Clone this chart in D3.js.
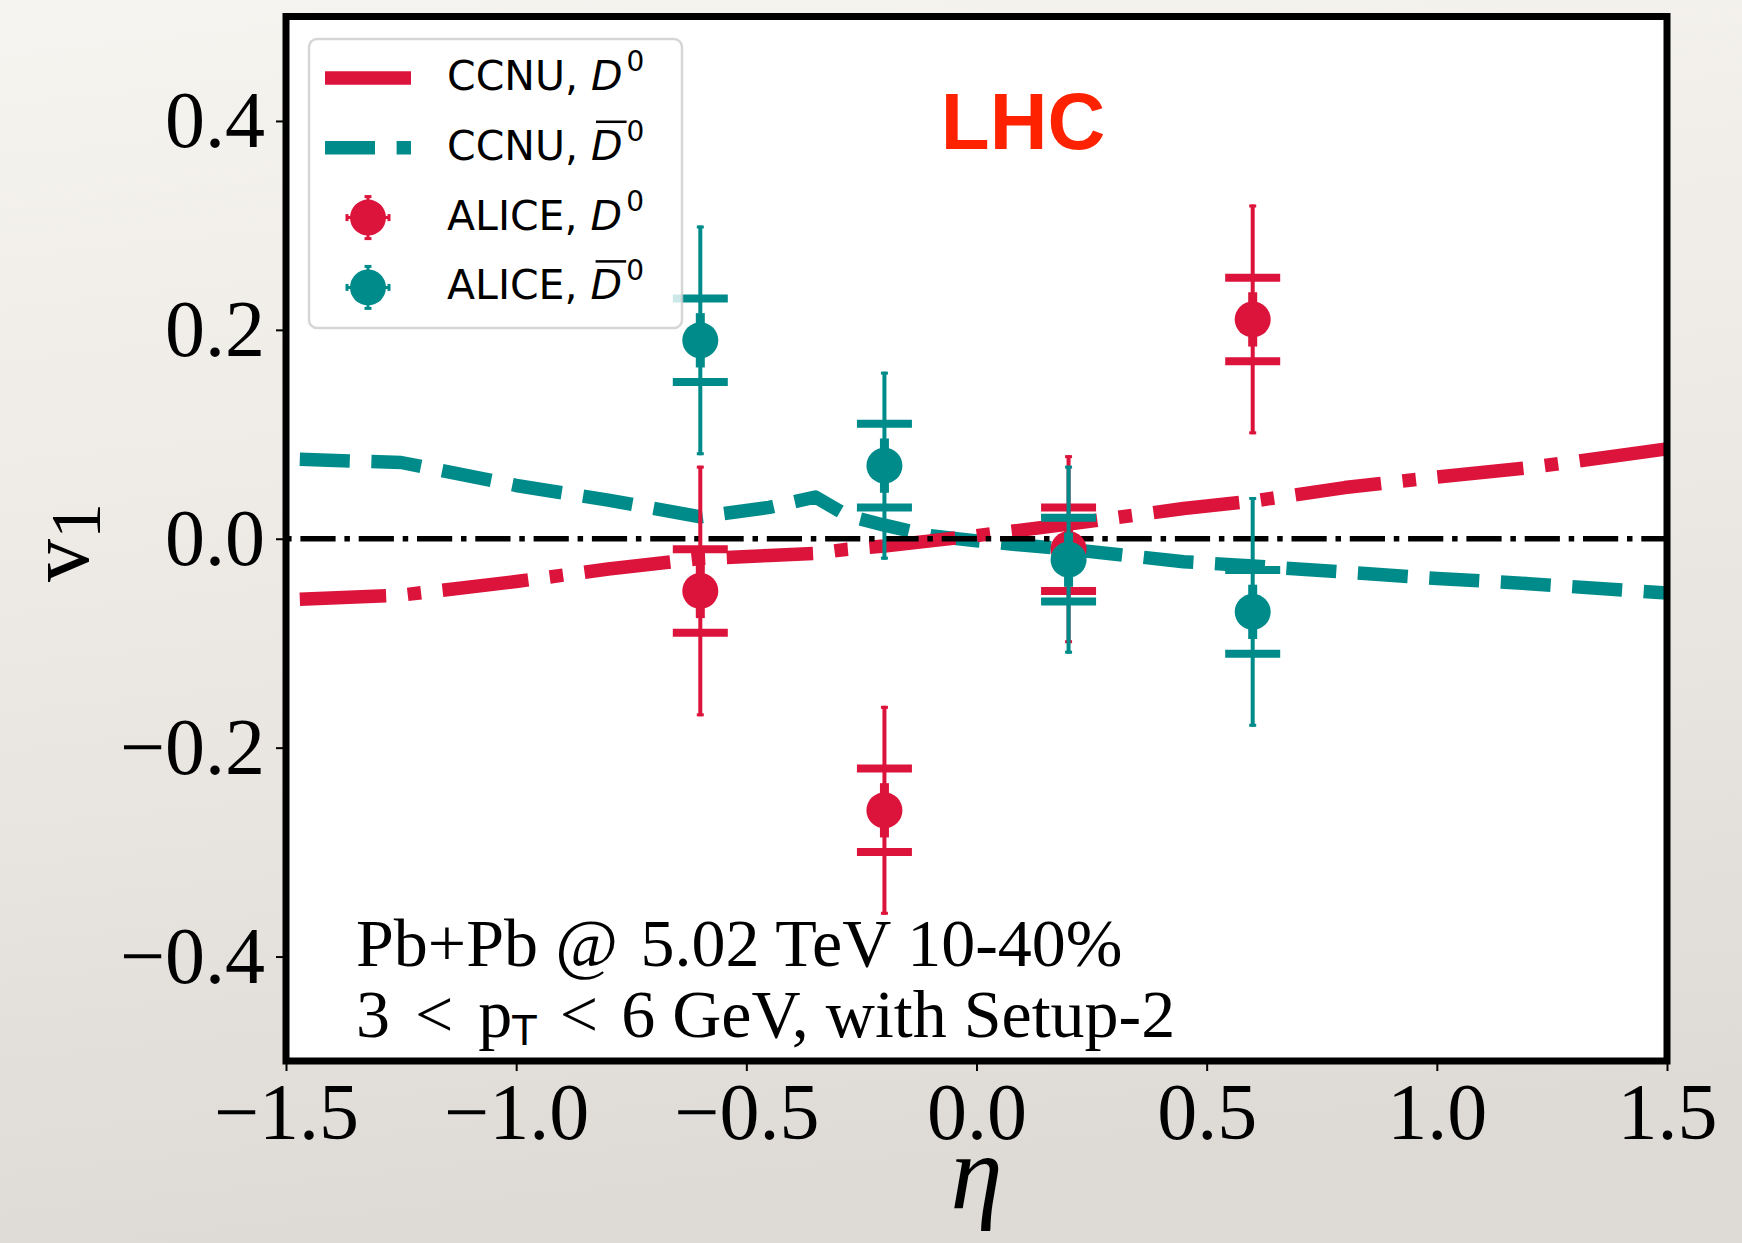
<!DOCTYPE html>
<html>
<head>
<meta charset="utf-8">
<script src="https://cdnjs.cloudflare.com/ajax/libs/d3/7.8.5/d3.min.js"></script>
<style>
  body { margin: 0; }
</style>
</head>
<body>
<div id="chart"></div>
<script>
//////////////// DATA ////////////////
var eta_ticks = [-1.5, -1.0, -0.5, 0.0, 0.5, 1.0, 1.5];
var v1_ticks  = [-0.4, -0.2, 0.0, 0.2, 0.4];

// CCNU model curves
var ccnu_eta   = [-1.47, -1.25, -1.0, -0.8, -0.6, -0.45, -0.35, -0.28, -0.2, -0.1, 0.0, 0.2, 0.45, 0.6, 0.8, 1.0, 1.2, 1.5];
var ccnu_d0    = [-0.058, -0.054, -0.041, -0.029, -0.019, -0.016, -0.014, -0.010, -0.007, -0.002, 0.003, 0.014, 0.029, 0.036, 0.049, 0.059, 0.068, 0.086];
var ccnu_d0bar = [0.076, 0.073, 0.051, 0.037, 0.021, 0.030, 0.040, 0.022, 0.013, 0.003, -0.002, -0.010, -0.022, -0.026, -0.032, -0.038, -0.043, -0.052];

// ALICE points
var alice_eta        = [-0.6, -0.2, 0.2, 0.6];
var alice_d0         = [-0.05, -0.26, -0.01, 0.21];
var alice_d0_stat    = [0.12, 0.10, 0.09, 0.11];
var alice_d0_sys     = [0.04, 0.04, 0.04, 0.04];
var alice_d0bar      = [0.19, 0.07, -0.02, -0.07];
var alice_d0bar_stat = [0.11, 0.09, 0.09, 0.11];
var alice_d0bar_sys  = [0.04, 0.04, 0.04, 0.04];
var alice_inner      = [0.026, 0.026, 0.026, 0.026];

var red = "#dc143c", teal = "#008b8b";
var serif = "'Liberation Serif', 'Times New Roman', serif";
var sans = "'DejaVu Sans', sans-serif";

var svg = d3.select("#chart").append("svg")
    .attr("width", 1742)
    .attr("height", 1243);

var defs = svg.append("defs");
var grad = defs.append("linearGradient")
    .attr("id", "paper")
    .attr("x1", 0).attr("y1", 0).attr("x2", 0.15).attr("y2", 1);
grad.append("stop").attr("offset", "0%").attr("stop-color", "#f6f4f0");
grad.append("stop").attr("offset", "55%").attr("stop-color", "#ebe8e3");
grad.append("stop").attr("offset", "100%").attr("stop-color", "#dedbd6");

svg.append("rect")
    .attr("width", 1742).attr("height", 1243)
    .attr("fill", "url(#paper)");

var x = d3.scaleLinear().domain([-1.5, 1.5]).range([286, 1667]);
var y = d3.scaleLinear().domain([-0.5, 0.5]).range([1061, 16.5]);

defs.append("clipPath").attr("id", "clip")
  .append("rect")
    .attr("x", x(-1.5)).attr("y", y(0.5))
    .attr("width", x(1.5) - x(-1.5)).attr("height", y(-0.5) - y(0.5));

///////////// PLOT AREA /////////////
svg.append("rect")
    .attr("x", x(-1.5)).attr("y", y(0.5))
    .attr("width", x(1.5) - x(-1.5)).attr("height", y(-0.5) - y(0.5))
    .attr("fill", "#fff");

var plot = svg.append("g").attr("clip-path", "url(#clip)");

///////////// CCNU CURVES /////////////
var line_ccnu = d3.line()
    .x(function(d, i) { return x(ccnu_eta[i]); })
    .y(function(d) { return y(d); });

plot.append("path")
    .datum(ccnu_d0bar)
    .attr("d", line_ccnu)
    .attr("fill", "none")
    .attr("stroke", teal)
    .attr("stroke-width", 13.5)
    .attr("stroke-linejoin", "round")
    .attr("stroke-dasharray", "50,21.6");

plot.append("path")
    .datum(ccnu_d0)
    .attr("d", line_ccnu)
    .attr("fill", "none")
    .attr("stroke", red)
    .attr("stroke-width", 13.5)
    .attr("stroke-linejoin", "round")
    .attr("stroke-dasharray", "86.4,21.6,13.5,21.6");

///////////// ZERO LINE /////////////
plot.append("line")
    .attr("x1", x(-1.5)).attr("x2", x(1.5))
    .attr("y1", y(0)).attr("y2", y(0))
    .attr("stroke", "#000")
    .attr("stroke-width", 5.5)
    .attr("stroke-dasharray", "35.2,8.8,5.5,8.8")
    .attr("stroke-dashoffset", 43.9);

///////////// ALICE POINTS /////////////
function draw_alice(vals, stat, sys, color) {
  var pts = alice_eta.map(function(e, i) {
    return {eta: e, v: vals[i], stat: stat[i], sys: sys[i], inner: alice_inner[i]};
  });
  var g = plot.append("g");

  // systematic bars
  [1, -1].forEach(function(s) {
    g.selectAll("line.sys").data(pts).enter().append("line")
      .attr("x1", function(d) { return x(d.eta) - 27.5; })
      .attr("x2", function(d) { return x(d.eta) + 27.5; })
      .attr("y1", function(d) { return y(d.v + s * d.sys); })
      .attr("y2", function(d) { return y(d.v + s * d.sys); })
      .attr("stroke", color).attr("stroke-width", 8);
  });

  // statistical bars
  g.selectAll("line.stat").data(pts).enter().append("line")
    .attr("x1", function(d) { return x(d.eta); })
    .attr("x2", function(d) { return x(d.eta); })
    .attr("y1", function(d) { return y(d.v + d.stat); })
    .attr("y2", function(d) { return y(d.v - d.stat); })
    .attr("stroke", color).attr("stroke-width", 4);
  [1, -1].forEach(function(s) {
    g.selectAll("line.cap").data(pts).enter().append("line")
      .attr("x1", function(d) { return x(d.eta) - 3.5; })
      .attr("x2", function(d) { return x(d.eta) + 3.5; })
      .attr("y1", function(d) { return y(d.v + s * d.stat) + s * 1.5; })
      .attr("y2", function(d) { return y(d.v + s * d.stat) + s * 1.5; })
      .attr("stroke", color).attr("stroke-width", 3);
  });

  // thick inner segment
  g.selectAll("line.inner").data(pts).enter().append("line")
    .attr("x1", function(d) { return x(d.eta); })
    .attr("x2", function(d) { return x(d.eta); })
    .attr("y1", function(d) { return y(d.v + d.inner); })
    .attr("y2", function(d) { return y(d.v - d.inner); })
    .attr("stroke", color).attr("stroke-width", 9);

  g.selectAll("circle").data(pts).enter().append("circle")
    .attr("cx", function(d) { return x(d.eta); })
    .attr("cy", function(d) { return y(d.v); })
    .attr("r", 18)
    .attr("fill", color);
}

draw_alice(alice_d0, alice_d0_stat, alice_d0_sys, red);
draw_alice(alice_d0bar, alice_d0bar_stat, alice_d0bar_sys, teal);

///////////// AXES /////////////
var fmt = d3.format(".1f");

var xAxis = svg.append("g")
    .attr("transform", "translate(0," + y(-0.5) + ")")
    .call(d3.axisBottom(x).tickValues(eta_ticks).tickSize(10).tickPadding(11).tickFormat(fmt));
var yAxis = svg.append("g")
    .attr("transform", "translate(" + x(-1.5) + ",0)")
    .call(d3.axisLeft(y).tickValues(v1_ticks).tickSize(10).tickPadding(11).tickFormat(fmt));

[xAxis, yAxis].forEach(function(a) {
  a.select(".domain").remove();
  a.selectAll(".tick line").attr("stroke", "#000").attr("stroke-width", 2);
  a.selectAll(".tick text")
    .attr("fill", "#000")
    .style("font-family", serif)
    .style("font-size", "80px");
});

// frame
svg.append("rect")
    .attr("x", x(-1.5)).attr("y", y(0.5))
    .attr("width", x(1.5) - x(-1.5)).attr("height", y(-0.5) - y(0.5))
    .attr("fill", "none")
    .attr("stroke", "#000")
    .attr("stroke-width", 7);

// axis titles
var ylab = svg.append("text")
    .attr("transform", "translate(88,582) rotate(-90)")
    .style("font-family", serif)
    .style("font-size", "86px")
    .attr("fill", "#000");
ylab.append("tspan").text("v");
ylab.append("tspan").attr("dy", 12).style("font-size", "72px").text("1");

svg.append("text")
    .attr("x", x(0)).attr("y", 1208)
    .attr("text-anchor", "middle")
    .style("font-family", serif)
    .style("font-style", "italic")
    .style("font-size", "105px")
    .attr("fill", "#000")
    .text("η");

///////////// ANNOTATIONS /////////////
svg.append("text")
    .attr("x", 1023).attr("y", 149)
    .attr("text-anchor", "middle")
    .style("font-family", "'Liberation Sans', Arial, sans-serif")
    .style("font-weight", "bold")
    .style("font-size", "80px")
    .attr("fill", "#ff2200")
    .text("LHC");

var note1 = svg.append("text")
    .attr("x", 356).attr("y", 966)
    .style("font-family", serif).style("font-size", "68px").attr("fill", "#000");
note1.append("tspan").text("Pb+Pb ");
note1.append("tspan").style("font-style", "italic").text("@");
note1.append("tspan").attr("dx", 6).text(" 5.02 TeV 10-40%");

var note2 = svg.append("text")
    .attr("x", 356).attr("y", 1037)
    .style("font-family", serif).style("font-size", "68px").attr("fill", "#000");
note2.append("tspan").text("3");
note2.append("tspan").attr("dx", 8).text(" <");
note2.append("tspan").attr("dx", 8).text(" p");
note2.append("tspan").attr("dy", 8).style("font-family", sans).style("font-size", "40px").text("T");
note2.append("tspan").attr("dy", -8).attr("dx", 6).text(" <");
note2.append("tspan").attr("dx", 6).text(" 6 GeV, with Setup-2");

///////////// LEGEND /////////////
var legend_rows = [
  {name: "CCNU, ", bar: false, color: red,  kind: "solid"},
  {name: "CCNU, ", bar: true,  color: teal, kind: "dash"},
  {name: "ALICE, ", bar: false, color: red,  kind: "point"},
  {name: "ALICE, ", bar: true,  color: teal, kind: "point"}
];

var legend = svg.append("g").attr("class", "legend");
legend.append("rect")
    .attr("x", 309).attr("y", 39)
    .attr("width", 373).attr("height", 289)
    .attr("rx", 8).attr("ry", 8)
    .attr("fill", "rgba(255,255,255,0.8)")
    .attr("stroke", "rgba(204,204,204,0.8)")
    .attr("stroke-width", 2.5);

var rows_g = legend.selectAll("g.row")
    .data(legend_rows)
    .enter().append("g")
    .attr("class", "row")
    .attr("transform", function(d, i) { return "translate(0," + (78 + i * 69.8) + ")"; });

rows_g.filter(function(d) { return d.kind !== "point"; })
  .append("line")
    .attr("x1", 325).attr("x2", 411)
    .attr("y1", 0).attr("y2", 0)
    .attr("stroke", function(d) { return d.color; })
    .attr("stroke-width", 13.5)
    .attr("stroke-dasharray", function(d) { return d.kind === "dash" ? "50,21.6" : null; });

var pt_g = rows_g.filter(function(d) { return d.kind === "point"; });
pt_g.append("line")
    .attr("x1", 368).attr("x2", 368).attr("y1", -22).attr("y2", 22)
    .attr("stroke", function(d) { return d.color; }).attr("stroke-width", 3);
pt_g.append("line")
    .attr("x1", 346).attr("x2", 390).attr("y1", 0).attr("y2", 0)
    .attr("stroke", function(d) { return d.color; }).attr("stroke-width", 3);
[-21, 21].forEach(function(o) {
  pt_g.append("line")
    .attr("x1", 364.5).attr("x2", 371.5).attr("y1", o).attr("y2", o)
    .attr("stroke", function(d) { return d.color; }).attr("stroke-width", 3);
  pt_g.append("line")
    .attr("x1", 368 + o).attr("x2", 368 + o).attr("y1", -3.5).attr("y2", 3.5)
    .attr("stroke", function(d) { return d.color; }).attr("stroke-width", 3);
});
pt_g.append("circle")
    .attr("cx", 368).attr("cy", 0).attr("r", 18)
    .attr("fill", function(d) { return d.color; });

var labels = rows_g.append("text")
    .attr("x", 447).attr("y", 12)
    .style("font-family", sans)
    .style("font-size", "41px")
    .attr("fill", "#000");
labels.append("tspan").text(function(d) { return d.name; });
labels.append("tspan").attr("class", "dsym").style("font-style", "italic").text("D");
labels.append("tspan").attr("dx", 4).attr("dy", -19).style("font-size", "28px").text("0");

// overline for anti-D
labels.each(function(d) {
  if (!d.bar) return;
  var ext = this.getExtentOfChar(d.name.length);
  d3.select(this.parentNode).append("line")
    .attr("x1", ext.x + 5).attr("x2", ext.x + ext.width + 4)
    .attr("y1", -26).attr("y2", -26)
    .attr("stroke", "#000").attr("stroke-width", 2.5);
});
</script>
</body>
</html>
